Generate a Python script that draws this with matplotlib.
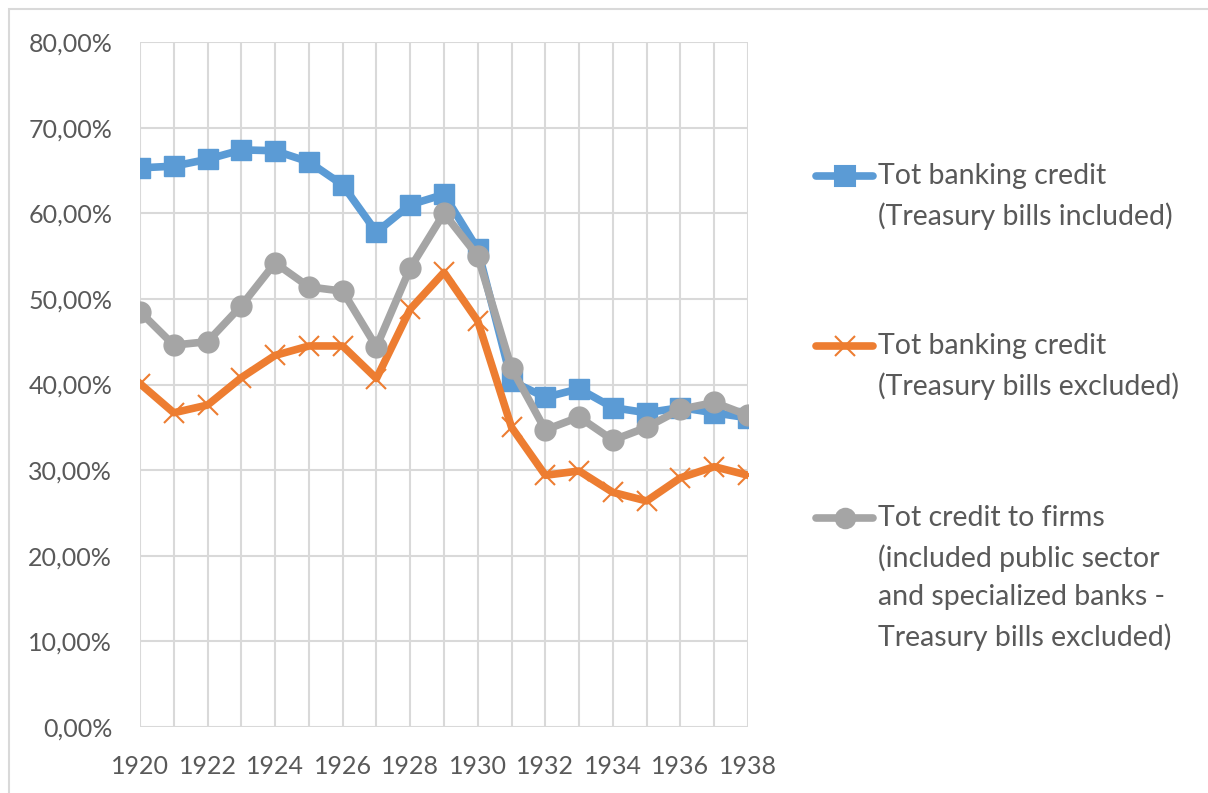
import matplotlib
matplotlib.use('Agg')
from matplotlib import pyplot as plt
from matplotlib.lines import Line2D
from matplotlib.patches import Rectangle
from matplotlib.ticker import FuncFormatter

plt.rcParams['font.family'] = ['Lato', 'DejaVu Sans']

years = list(range(1920, 1939))

# shares in percent
tot_incl = [65.3, 65.5, 66.3, 67.4, 67.3, 66.0, 63.3, 57.8, 61.0, 62.2, 55.8,
            40.4, 38.5, 39.5, 37.3, 36.7, 37.3, 36.7, 36.1]
tot_excl = [40.1, 36.7, 37.6, 40.8, 43.4, 44.5, 44.5, 40.7, 48.8, 53.1, 47.4,
            35.0, 29.4, 29.9, 27.4, 26.4, 29.1, 30.4, 29.4]
firms = [48.5, 44.6, 45.0, 49.2, 54.2, 51.4, 50.9, 44.4, 53.6, 60.0, 55.0,
         41.9, 34.7, 36.2, 33.5, 35.0, 37.1, 37.9, 36.4]

labels = ['Tot banking credit\n(Treasury bills included)',
          'Tot banking credit\n(Treasury bills excluded)',
          'Tot credit to firms\n(included public sector\nand specialized banks -\nTreasury bills excluded)']

blue = '#5B9BD5'
orange = '#ED7D31'
grey = '#A5A5A5'
txt = '#595959'

fig = plt.figure(figsize=(12.08, 7.93), dpi=100)
ax = fig.add_axes([140 / 1208, 1 - 727 / 793, 608 / 1208, 685 / 793])

ax.plot(years, tot_incl, color=blue, lw=5.5, marker='s', ms=14, zorder=3)
ax.plot(years, tot_excl, color=orange, lw=5.5, marker='x', ms=14, mew=1.5, zorder=4)
ax.plot(years, firms, color=grey, lw=5.5, marker='o', ms=15, zorder=5)

ax.set_xlim(1920, 1938)
ax.set_ylim(0, 80)
ax.set_xticks(years)
ax.set_xticklabels([str(y) if y % 2 == 0 else '' for y in years])
ax.set_yticks(range(0, 81, 10))
ax.yaxis.set_major_formatter(FuncFormatter(lambda v, p: ('%.2f%%' % v).replace('.', ',')))
ax.grid(True, color='#D9D9D9', lw=1.5)
ax.set_axisbelow(True)
for s in ax.spines.values():
    s.set_visible(False)
ax.tick_params(length=0, labelsize=18, colors=txt)
ax.tick_params(axis='y', pad=20)
ax.tick_params(axis='x', pad=20)

# legend drawn by hand so the handle sits on the first text line
colors = [blue, orange, grey]
markers = ['s', 'x', 'o']
legend_y = [176, 346, 518]
for c, m, lab, y in zip(colors, markers, labels, legend_y):
    yf = 1 - y / 793
    fig.add_artist(Line2D([816 / 1208, 873 / 1208], [yf, yf], color=c, lw=5.5,
                          solid_capstyle='round', transform=fig.transFigure))
    fig.add_artist(Line2D([845 / 1208], [yf], color=c, marker=m, ms=14, mew=1.5,
                          transform=fig.transFigure))
    for i, line in enumerate(lab.split('\n')):
        fig.text(878 / 1208, 1 - (y + 39.7 * i) / 793, line, fontsize=20.5,
                 color=txt, va='center')

fig.add_artist(Rectangle((9 / 1208, -0.1), 1.2, 1 - 9 / 793 + 0.1, fill=False,
                         edgecolor='#D9D9D9', lw=1.5, transform=fig.transFigure))

fig.savefig('out.png', dpi=100)
